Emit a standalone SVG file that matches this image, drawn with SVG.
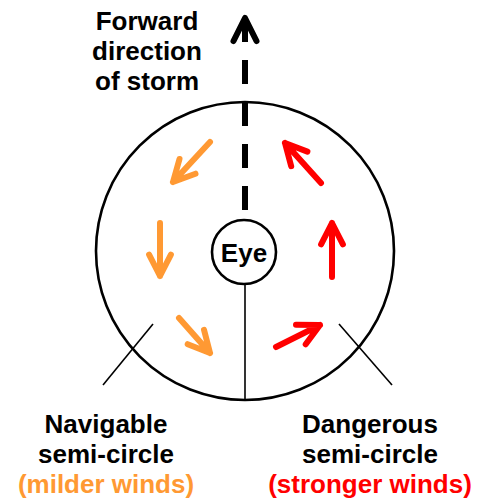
<svg xmlns="http://www.w3.org/2000/svg" width="484" height="501" viewBox="0 0 484 501">
<style>
text{font-family:"Liberation Sans",Arial,sans-serif;font-weight:bold;font-size:26px;text-anchor:middle;fill:#000}
.o{fill:#FF9933}.r{fill:#FF0000}
.ao{fill:none;stroke:#FF9933;stroke-width:6;stroke-linecap:round;stroke-linejoin:round}
.ar{fill:none;stroke:#FF0000;stroke-width:6;stroke-linecap:round;stroke-linejoin:round}
.thin{stroke:#000;stroke-width:1.6;fill:none}
</style>
<rect width="484" height="501" fill="#fff"/>
<g id="storm">
<circle cx="245" cy="251" r="149" fill="none" stroke="#000" stroke-width="2.6"/>
</g>
<g id="connectors">
<path d="M245 210V18" stroke="#000" stroke-width="6" stroke-dasharray="24 18" fill="none"/>
<path d="M233.5 41L245 18L256.5 41" fill="none" stroke="#000" stroke-width="6" stroke-linecap="round" stroke-linejoin="round"/>
<line class="thin" x1="245" y1="283" x2="245" y2="399"/>
<line class="thin" x1="153" y1="324" x2="103" y2="385"/>
<line class="thin" x1="339" y1="324" x2="392" y2="385"/>
</g>
<g id="eye">
<circle cx="244" cy="252" r="32" fill="#fff" stroke="#000" stroke-width="2.6"/>
<text x="244" y="262">Eye</text>
</g>
<g id="winds-navigable">
<path class="ao" d="M210 142L173 182M179.5 159L173 182L195.5 173.7"/>
<path class="ao" d="M160 223V276M149.1 254.6L160 276L170.9 254.6"/>
<path class="ao" d="M179 318L210 353M204 329.8L210 353L187.7 344.2"/>
</g>
<g id="winds-dangerous">
<path class="ar" d="M321 183L285 143M291.2 166.2L285 143L307.4 151.6"/>
<path class="ar" d="M332 277V223M321.1 244.4L332 223L342.9 244.4"/>
<path class="ar" d="M276 347L320 325M296 324.8L320 325L305.7 344.3"/>
</g>
<g id="label-forward">
<text x="147" y="30">Forward</text>
<text x="147" y="60">direction</text>
<text x="147" y="90">of storm</text>
</g>
<g id="label-navigable">
<text x="106" y="433">Navigable</text>
<text x="106" y="463">semi-circle</text>
<text x="106" y="493" class="o">(milder winds)</text>
</g>
<g id="label-dangerous">
<text x="370" y="433">Dangerous</text>
<text x="370" y="463">semi-circle</text>
<text x="370" y="493" class="r">(stronger winds)</text>
</g>
</svg>
